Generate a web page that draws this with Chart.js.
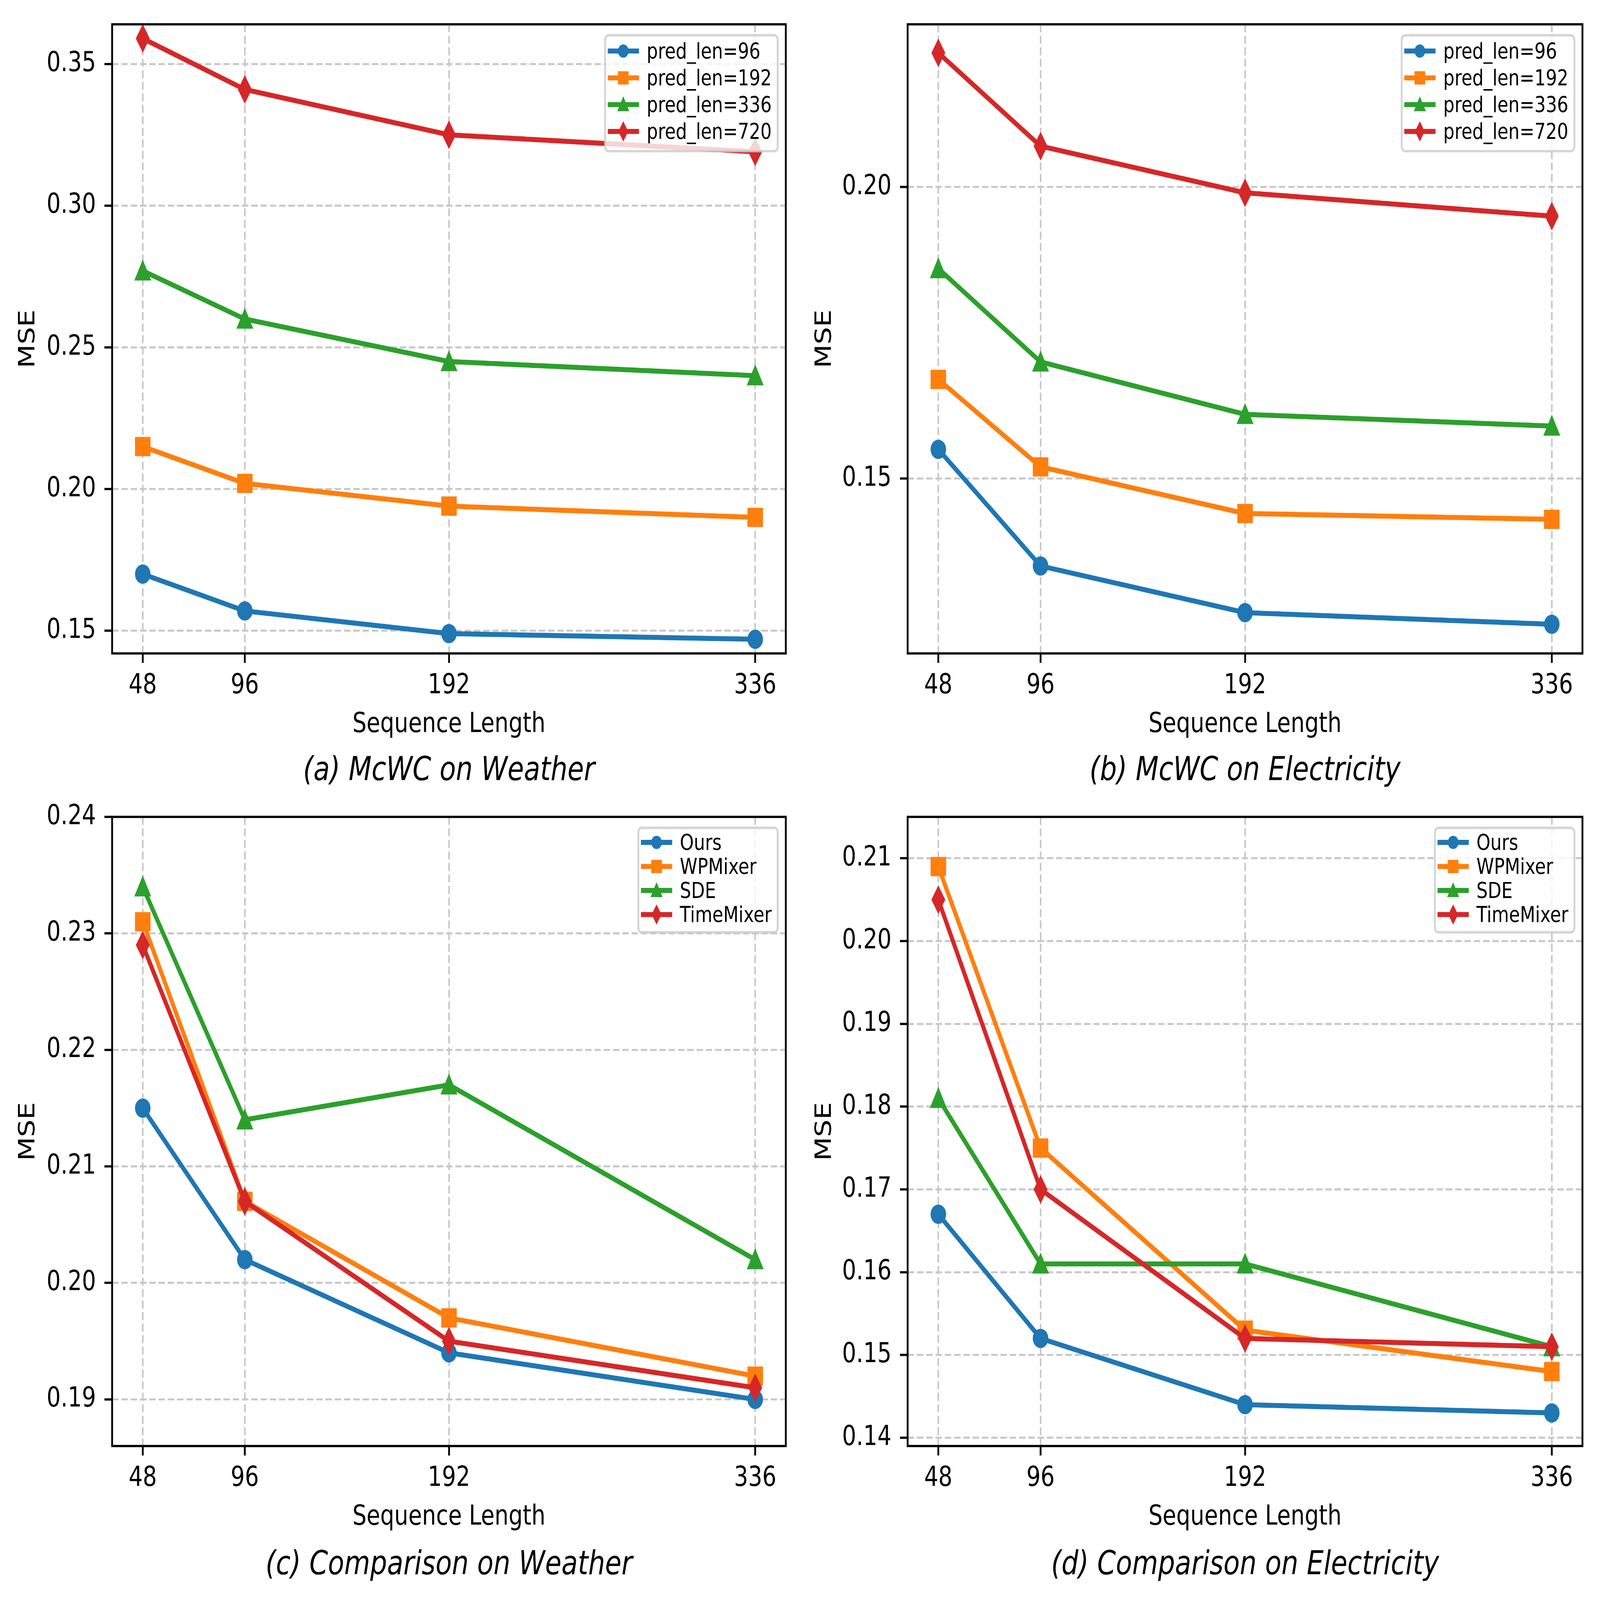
<!DOCTYPE html>
<html>
<head>
<meta charset="utf-8">
<title>McWC sequence length study</title>
<script src="https://cdn.jsdelivr.net/npm/chart.js@4.4.1/dist/chart.umd.min.js"></script>
<style>
  html, body { margin: 0; padding: 0; background: #fff; overflow: hidden; }
  body { position: relative; width: 100vw; height: 100vh; }
  canvas { position: absolute; display: block; }
</style>
</head>
<body>
<canvas id="chartA"></canvas>
<canvas id="chartB"></canvas>
<canvas id="chartC"></canvas>
<canvas id="chartD"></canvas>
<script>
// ---- data ----
const seqLens = [48, 96, 192, 336];
const xTicks = [48, 96, 192, 336];

const predLabels = ['pred_len=96', 'pred_len=192', 'pred_len=336', 'pred_len=720'];
const methodLabels = ['Ours', 'WPMixer', 'SDE', 'TimeMixer'];

// (a) McWC on Weather
const weatherPred96 = [0.170, 0.157, 0.149, 0.147];
const weatherPred192 = [0.215, 0.202, 0.194, 0.190];
const weatherPred336 = [0.277, 0.260, 0.245, 0.240];
const weatherPred720 = [0.359, 0.341, 0.325, 0.319];
const weatherMcwcTicks = [0.15, 0.20, 0.25, 0.30, 0.35];

// (b) McWC on Electricity
const elecPred96 = [0.155, 0.135, 0.127, 0.125];
const elecPred192 = [0.167, 0.152, 0.144, 0.143];
const elecPred336 = [0.186, 0.170, 0.161, 0.159];
const elecPred720 = [0.223, 0.207, 0.199, 0.195];
const elecMcwcTicks = [0.15, 0.20];

// (c) Comparison on Weather
const weatherOurs = [0.215, 0.202, 0.194, 0.190];
const weatherWPMixer = [0.231, 0.207, 0.197, 0.192];
const weatherSDE = [0.234, 0.214, 0.217, 0.202];
const weatherTimeMixer = [0.229, 0.207, 0.195, 0.191];
const weatherCmpTicks = [0.19, 0.20, 0.21, 0.22, 0.23, 0.24];

// (d) Comparison on Electricity
const elecOurs = [0.167, 0.152, 0.144, 0.143];
const elecWPMixer = [0.209, 0.175, 0.153, 0.148];
const elecSDE = [0.181, 0.161, 0.161, 0.151];
const elecTimeMixer = [0.205, 0.170, 0.152, 0.151];
const elecCmpTicks = [0.14, 0.15, 0.16, 0.17, 0.18, 0.19, 0.20, 0.21];

// ---- style ----
const COLORS = ['#1f77b4', '#ff7f0e', '#2ca02c', '#d62728'];
const SHAPES = ['circle', 'square', 'triangle', 'thinDiamond'];
const GRID = '#c8c8c8';
const X_MIN = 33.6, X_MAX = 350.4;
const X_AXIS_H = 340;
const FIG_W = 7933, FIG_H = 6392;

Chart.defaults.font.family = "'DejaVu Sans'";
Chart.defaults.color = '#000';

// matplotlib-like marker drawn once into a small canvas
function makeMarker(shape, ms, color) {
  const edge = 11;
  const size = 2 * Math.ceil(ms * 0.8 + edge * 1.5);
  const c = document.createElement('canvas');
  c.width = size; c.height = size;
  const g = c.getContext('2d');
  g.translate(size / 2, size / 2);
  const h = ms / 2;
  g.beginPath();
  if (shape === 'circle') {
    g.arc(0, 0, h, 0, Math.PI * 2);
  } else if (shape === 'square') {
    g.rect(-h, -h, ms, ms);
  } else if (shape === 'triangle') {
    g.moveTo(0, -h); g.lineTo(h, h); g.lineTo(-h, h); g.closePath();
  } else {
    const d = h * Math.SQRT2, w = d * 0.6;
    g.moveTo(0, -d); g.lineTo(w, 0); g.lineTo(0, d); g.lineTo(-w, 0); g.closePath();
  }
  g.fillStyle = color;
  g.fill();
  g.lineWidth = edge;
  g.lineJoin = 'miter';
  g.strokeStyle = color;
  g.stroke();
  return c;
}

const plotMarkers = SHAPES.map((s, i) => makeMarker(s, 66, COLORS[i]));
const legendMarkers = SHAPES.map((s, i) => makeMarker(s, 42, COLORS[i]));

function roundedRect(ctx, x, y, w, h, r) {
  ctx.beginPath();
  ctx.moveTo(x + r, y);
  ctx.arcTo(x + w, y, x + w, y + h, r);
  ctx.arcTo(x + w, y + h, x, y + h, r);
  ctx.arcTo(x, y + h, x, y, r);
  ctx.arcTo(x, y, x + w, y, r);
  ctx.closePath();
}

// frame, legend box and sub-caption
const panelDecor = {
  id: 'panelDecor',
  afterDraw(chart, args, opts) {
    const { ctx, chartArea: a } = chart;
    ctx.save();

    ctx.strokeStyle = '#000';
    ctx.lineWidth = 9;
    ctx.lineJoin = 'miter';
    ctx.setLineDash([]);
    ctx.strokeRect(a.left, a.top, a.right - a.left, a.bottom - a.top);

    const labels = opts.labels;
    ctx.font = "88px 'DejaVu Sans'";
    const tw = Math.max(...labels.map(t => ctx.measureText(t).width));
    const right = a.right - 40;
    const left = right - (13 + 155 + 38 + tw + 30);
    const top = a.top + 44;
    const bottom = top + opts.firstRow + opts.rowGap * (labels.length - 1) + opts.lastPad;
    roundedRect(ctx, left, top, right - left, bottom - top, 18);
    ctx.fillStyle = 'rgba(255,255,255,0.8)';
    ctx.fill();
    ctx.lineWidth = 10;
    ctx.strokeStyle = 'rgba(204,204,204,0.8)';
    ctx.stroke();

    labels.forEach((t, i) => {
      const cy = top + opts.firstRow + opts.rowGap * i;
      const hx = left + 13;
      ctx.beginPath();
      ctx.moveTo(hx, cy);
      ctx.lineTo(hx + 155, cy);
      ctx.lineWidth = 20;
      ctx.lineCap = 'butt';
      ctx.strokeStyle = COLORS[i];
      ctx.stroke();
      const m = legendMarkers[i];
      ctx.drawImage(m, Math.round(hx + 77.5 - m.width / 2), Math.round(cy - m.height / 2));
      ctx.fillStyle = '#000';
      ctx.textAlign = 'left';
      ctx.textBaseline = 'alphabetic';
      ctx.fillText(t, hx + 155 + 38, cy + 30);
    });

    ctx.font = "italic 132px 'DejaVu Sans'";
    ctx.textAlign = 'center';
    ctx.textBaseline = 'alphabetic';
    ctx.fillStyle = '#000';
    ctx.fillText(opts.caption, (a.left + a.right) / 2, opts.captionY);
    ctx.restore();
  }
};

const predLegend = { firstRow: 63, rowGap: 107, lastPad: 79 };
const methodLegend = { firstRow: 58, rowGap: 96, lastPad: 71 };

const panels = [
  { id: 'chartA', x: 0, y: 0, width: 3950, height: 3167, plotLeft: 556, plotRight: 3908, plotTop: 79, plotBottom: 2611,
    series: [weatherPred96, weatherPred192, weatherPred336, weatherPred720], labels: predLabels, legend: predLegend,
    yMin: 0.1420, yMax: 0.3640, yTicks: weatherMcwcTicks, caption: '(a) McWC on Weather', captionY: 3117 },
  { id: 'chartB', x: 3950, y: 0, width: 3983, height: 3167, plotLeft: 551, plotRight: 3896, plotTop: 79, plotBottom: 2611,
    series: [elecPred96, elecPred192, elecPred336, elecPred720], labels: predLabels, legend: predLegend,
    yMin: 0.1200, yMax: 0.2279, yTicks: elecMcwcTicks, caption: '(b) McWC on Electricity', captionY: 3117 },
  { id: 'chartC', x: 0, y: 3167, width: 3950, height: 3225, plotLeft: 556, plotRight: 3908, plotTop: 79, plotBottom: 2610,
    series: [weatherOurs, weatherWPMixer, weatherSDE, weatherTimeMixer], labels: methodLabels, legend: methodLegend,
    yMin: 0.1860, yMax: 0.2400, yTicks: weatherCmpTicks, caption: '(c) Comparison on Weather', captionY: 3122 },
  { id: 'chartD', x: 3950, y: 3167, width: 3983, height: 3225, plotLeft: 551, plotRight: 3896, plotTop: 79, plotBottom: 2610,
    series: [elecOurs, elecWPMixer, elecSDE, elecTimeMixer], labels: methodLabels, legend: methodLegend,
    yMin: 0.1390, yMax: 0.2150, yTicks: elecCmpTicks, caption: '(d) Comparison on Electricity', captionY: 3122 }
];

// the figure is laid out in its own pixels and then fitted to the window
const sx = (window.innerWidth || FIG_W) / FIG_W;
const sy = (window.innerHeight || FIG_H) / FIG_H;

function buildChart(p) {
  const canvas = document.getElementById(p.id);
  canvas.width = p.width;
  canvas.height = p.height;
  canvas.style.left = (p.x * sx) + 'px';
  canvas.style.top = (p.y * sy) + 'px';
  canvas.style.width = (p.width * sx) + 'px';
  canvas.style.height = (p.height * sy) + 'px';

  const datasets = p.series.map((ys, i) => ({
    label: p.labels[i],
    data: seqLens.map((x, j) => ({ x: x, y: ys[j] })),
    borderColor: COLORS[i],
    backgroundColor: COLORS[i],
    borderWidth: 20,
    borderJoinStyle: 'round',
    borderCapStyle: 'square',
    pointStyle: plotMarkers[i],
    pointRadius: 33,
    pointHoverRadius: 33,
    tension: 0,
    order: 3 - i
  }));

  const tickFont = { size: 110, lineHeight: 1 };

  return new Chart(canvas, {
    type: 'line',
    data: { datasets },
    options: {
      responsive: false,
      animation: false,
      devicePixelRatio: 1,
      events: [],
      layout: {
        padding: {
          left: 0,
          top: p.plotTop,
          right: p.width - p.plotRight,
          bottom: p.height - p.plotBottom - X_AXIS_H
        }
      },
      plugins: {
        legend: { display: false },
        tooltip: { enabled: false },
        panelDecor: Object.assign({ labels: p.labels, caption: p.caption, captionY: p.captionY }, p.legend)
      },
      scales: {
        x: {
          type: 'linear',
          bounds: 'data',
          min: X_MIN,
          max: X_MAX,
          afterBuildTicks: s => { s.ticks = xTicks.map(v => ({ value: v })); },
          afterFit: s => { s.height = X_AXIS_H; },
          ticks: { callback: v => String(v), padding: 37, font: tickFont, color: '#000', maxRotation: 0, autoSkip: false },
          grid: { color: GRID, lineWidth: 8, drawTicks: true, tickLength: 38, tickWidth: 9, tickColor: '#000', tickBorderDash: [] },
          border: { display: false, dash: [32, 14] },
          title: { display: true, text: 'Sequence Length', font: tickFont, color: '#000', padding: { top: 0, bottom: 0 } }
        },
        y: {
          type: 'linear',
          bounds: 'data',
          min: p.yMin,
          max: p.yMax,
          afterBuildTicks: s => { s.ticks = p.yTicks.map(v => ({ value: v })); },
          afterFit: s => { s.width = p.plotLeft; },
          ticks: { callback: v => Number(v).toFixed(2), padding: 42, font: tickFont, color: '#000', autoSkip: false },
          grid: { color: GRID, lineWidth: 8, drawTicks: true, tickLength: 38, tickWidth: 9, tickColor: '#000', tickBorderDash: [] },
          border: { display: false, dash: [32, 14] },
          title: { display: true, text: 'MSE', font: tickFont, color: '#000', padding: { top: 86, bottom: 0 } }
        }
      }
    },
    plugins: [panelDecor]
  });
}

panels.forEach(buildChart);
</script>
</body>
</html>
